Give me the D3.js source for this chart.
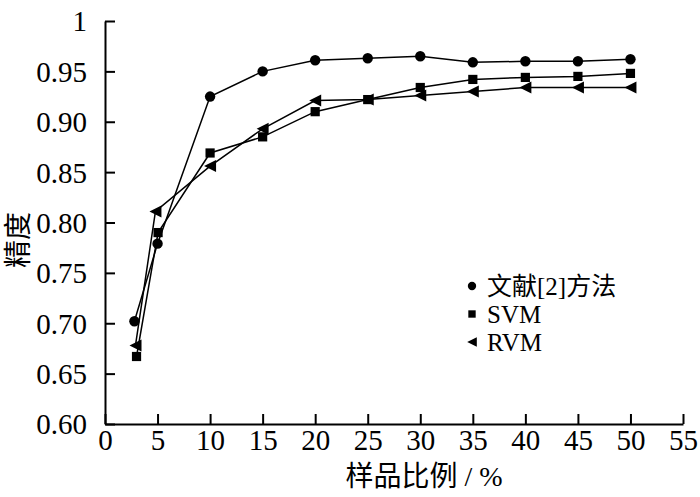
<!DOCTYPE html>
<html>
<head>
<meta charset="utf-8">
<script src="https://cdn.jsdelivr.net/npm/d3@7"></script>
<style>
  body { margin: 0; background: #fff; }
  text { font-family: "Liberation Serif", "Noto Sans CJK SC", serif; fill: #000; }
</style>
</head>
<body>
<div id="chart"></div>
<script>
// data
var seriesNames = ["文献[2]方法", "SVM", "RVM"];
var xRef = [2.8, 5, 10, 15, 20, 25, 30, 35, 40, 45, 50];
var yRef = [0.702, 0.779, 0.925, 0.950, 0.961, 0.963, 0.965, 0.959, 0.960, 0.960, 0.962];
var xSvm = [3.0, 5.05, 10, 15, 20, 25, 30, 35, 40, 45, 50];
var ySvm = [0.667, 0.790, 0.869, 0.885, 0.910, 0.922, 0.934, 0.942, 0.944, 0.945, 0.948];
var xRvm = [2.9, 4.8, 10, 15, 20, 25, 30, 35, 40, 45, 50];
var yRvm = [0.678, 0.811, 0.856, 0.893, 0.921, 0.922, 0.926, 0.930, 0.934, 0.934, 0.934];
var xTicks = [0, 5, 10, 15, 20, 25, 30, 35, 40, 45, 50, 55];
var yTicks = [0.60, 0.65, 0.70, 0.75, 0.80, 0.85, 0.90, 0.95, 1];

var w = 700, h = 497;
var margin = {left: 105, right: 17, top: 21, bottom: 73};

var svg = d3.select("#chart").append("svg")
    .attr("width", w)
    .attr("height", h);

var x = d3.scaleLinear().domain([0, 55]).range([margin.left, w - margin.right]);
var y = d3.scaleLinear().domain([0.6, 1]).range([h - margin.bottom, margin.top]);

//axes, ticks point inward
var xAxis = svg.append("g")
    .attr("transform", "translate(0," + y(0.6) + ")")
    .call(d3.axisBottom(x).tickValues(xTicks).tickSizeInner(-10).tickSizeOuter(0).tickPadding(20));

var yAxis = svg.append("g")
    .attr("transform", "translate(" + x(0) + ",0)")
    .call(d3.axisLeft(y).tickValues(yTicks).tickSizeInner(-10).tickSizeOuter(0).tickPadding(18)
        .tickFormat(function (d) { return d === 1 ? "1" : d3.format(".2f")(d); }));

[xAxis, yAxis].forEach(function (g) {
    g.attr("font-family", null).attr("font-size", null);
    g.selectAll("path, line").attr("stroke", "#000").attr("stroke-width", 2);
    g.selectAll("text").attr("font-size", 29)
        .attr("font-family", "Liberation Serif")
        .style("font-family", "'Liberation Serif', serif");
});
yAxis.selectAll("text").attr("dy", "0.34em");
xAxis.selectAll("text").attr("dy", "0.2em");

//axis titles
svg.append("text")
    .attr("x", 424)
    .attr("y", 486)
    .attr("text-anchor", "middle")
    .attr("font-size", 28)
    .text("样品比例 / %");

svg.append("text")
    .attr("transform", "translate(28,240) rotate(-90)")
    .attr("text-anchor", "middle")
    .attr("font-size", 28)
    .text("精度");

var series = [
    {xs: xRef, ys: yRef, shape: "circle"},
    {xs: xSvm, ys: ySvm, shape: "square"},
    {xs: xRvm, ys: yRvm, shape: "triangle"}
];

var line = d3.line()
    .x(function (d) { return x(d[0]); })
    .y(function (d) { return y(d[1]); });

function drawMarker(g, shape, cx, cy, s) {
    if (shape === "circle") {
        g.append("circle").attr("cx", cx).attr("cy", cy).attr("r", 5.2 * s);
    } else if (shape === "square") {
        g.append("rect").attr("x", cx - 4.6 * s).attr("y", cy - 4.6 * s)
            .attr("width", 9.2 * s).attr("height", 9.2 * s);
    } else {
        var a = 6 * s;
        g.append("path").attr("d", "M" + (cx - a) + "," + cy + "L" + (cx + a) + "," + (cy - a) +
            "L" + (cx + a) + "," + (cy + a) + "Z");
    }
}

series.forEach(function (s) {
    var pts = s.xs.map(function (v, i) { return [v, s.ys[i]]; });
    svg.append("path")
        .datum(pts)
        .attr("d", line)
        .attr("fill", "none")
        .attr("stroke", "#000")
        .attr("stroke-width", 1.5);
    var mg = svg.append("g").attr("fill", "#000");
    pts.forEach(function (p) { drawMarker(mg, s.shape, x(p[0]), y(p[1]), 1); });
});

//legend
var legend = svg.append("g").attr("transform", "translate(472,286)");
series.forEach(function (s, i) {
    var g = legend.append("g").attr("transform", "translate(0," + (i * 28) + ")").attr("fill", "#000");
    drawMarker(g, s.shape, 0, 0, 0.8);
    g.append("text")
        .attr("x", 15)
        .attr("y", 0)
        .attr("dy", "0.34em")
        .attr("font-size", 25)
        .text(seriesNames[i]);
});
</script>
</body>
</html>
